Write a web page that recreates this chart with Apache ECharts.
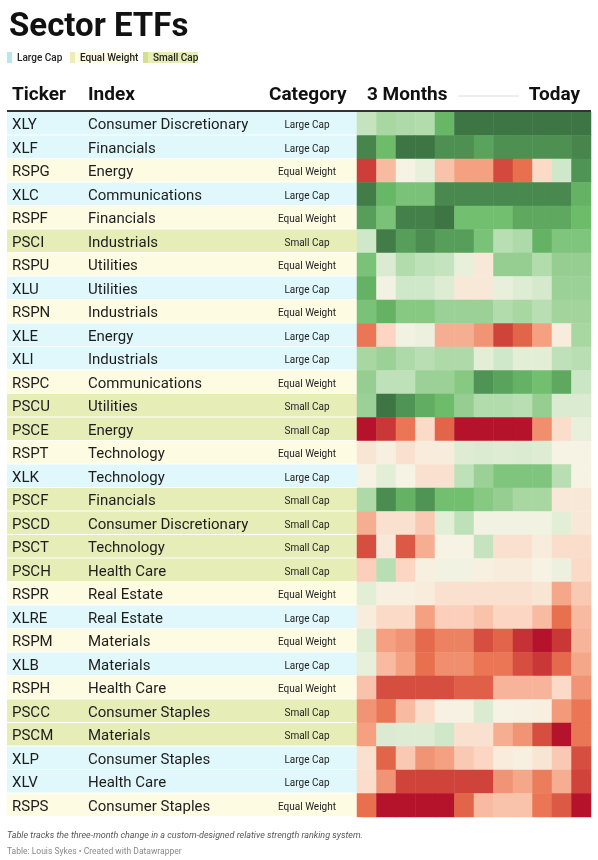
<!DOCTYPE html>
<html>
<head>
<meta charset="utf-8">
<script src="https://cdn.jsdelivr.net/npm/echarts@6/dist/echarts.min.js"></script>
<style>
  html, body { margin: 0; padding: 0; background: #fff; }
  #chart { width: 598px; height: 860px; }
</style>
</head>
<body>
<div id="chart"></div>
<script>
// table rows
const tickers = ['XLY','XLF','RSPG','XLC','RSPF','PSCI','RSPU','XLU','RSPN','XLE','XLI','RSPC','PSCU','PSCE','RSPT','XLK','PSCF','PSCD','PSCT','PSCH','RSPR','XLRE','RSPM','XLB','RSPH','PSCC','PSCM','XLP','XLV','RSPS'];
const indexes = ['Consumer Discretionary','Financials','Energy','Communications','Financials','Industrials','Utilities','Utilities','Industrials','Energy','Industrials','Communications','Utilities','Energy','Technology','Technology','Financials','Consumer Discretionary','Technology','Health Care','Real Estate','Real Estate','Materials','Materials','Health Care','Consumer Staples','Materials','Consumer Staples','Health Care','Consumer Staples'];
const categories = ['Large Cap','Large Cap','Equal Weight','Large Cap','Equal Weight','Small Cap','Equal Weight','Large Cap','Equal Weight','Large Cap','Large Cap','Equal Weight','Small Cap','Small Cap','Equal Weight','Large Cap','Small Cap','Small Cap','Small Cap','Small Cap','Equal Weight','Large Cap','Equal Weight','Large Cap','Equal Weight','Small Cap','Small Cap','Large Cap','Large Cap','Equal Weight'];

// 12 steps over 3 months (-4 strong red .. +4 dark green)
const weeks = ['w1','w2','w3','w4','w5','w6','w7','w8','w9','w10','w11','w12'];
const strength = [
  [1, 1.5, 1.4, 1.3, 2.5, 4, 4, 4, 4, 4, 4, 4],
  [3.6, 2.4, 4, 4, 3.3, 3.3, 2.9, 3.3, 3.3, 3.3, 3.3, 3.6],
  [-3.3, -1.2, 0, 0.3, -1.1, -1.6, -1.6, -3.1, -2.4, -0.7, 0.8, 3.2],
  [3.8, 2.5, 2.2, 2.2, 3.5, 3.5, 3.5, 3.5, 3.5, 3.5, 3.5, 2.6],
  [3, 2.2, 3.7, 3.7, 4, 2.3, 2.3, 2.3, 2.8, 2.8, 2.8, 2.4],
  [0.8, 3.8, 3, 3.4, 3, 3, 2.2, 1.2, 1.4, 2.6, 2.1, 2.1],
  [2.2, 0.6, 1.3, 1.1, 1.0, 0.3, -0.3, 1.8, 1.8, 1.3, 1.8, 1.8],
  [2.6, 0.1, 0.8, 0.8, 0.5, -0.3, -0.3, 0.3, 0.5, 0.7, 1.7, 1.7],
  [2.2, 2.6, 2, 2, 1.7, 1.7, 1.7, 1.3, 1.5, 1.2, 1.6, 1.6],
  [-2.3, -0.8, 0.1, 0.2, -1.4, -1.4, -1.8, -3.2, -2.6, -1.6, -0.2, 1.5],
  [1.5, 1.7, 1.4, 1.2, 1.4, 1.4, 0.4, 0.8, 0.4, 0.4, 1.1, 1.2],
  [1.8, 1.1, 1.1, 1.7, 1.7, 2.0, 3.2, 2.9, 2.6, 2.3, 2.8, 0.9],
  [1.7, 4, 3.2, 2.7, 2.4, 1.8, 1.3, 1.3, 1.2, 1.8, 0.6, 0.6],
  [-4, -3.4, -2.3, -0.7, -2.6, -4, -4, -4, -4, -1.9, -0.6, 0.3],
  [-0.4, -0.1, -0.5, -0.2, -0.2, 0.5, 0.6, 0.5, 0.6, 0.5, 0, 0],
  [0, 0.4, 0, -0.5, -0.5, 1.1, 1.7, 2.1, 2.1, 2.1, 1.2, 0],
  [1.4, 3.4, 2.6, 3.2, 2.3, 2.3, 2, 1.8, 1.5, 1.5, -0.3, -0.3],
  [-1.4, -0.5, -0.5, -1.0, 0.4, 1.1, 0.1, 0.1, 0.1, 0.1, 0.4, -0.3],
  [-3, -0.3, -2.8, -1.4, 0, 0, 1.0, -0.5, -0.5, -0.2, -0.6, -0.6],
  [-0.9, 1.2, -0.8, -0.1, 0.1, 0.1, -0.1, -0.2, -0.2, 0.0, 0.2, -0.7],
  [0.4, -0.1, -0.1, -0.2, -0.5, -0.5, -0.5, -0.5, -0.5, -0.4, -1.5, -1.0],
  [-0.2, -0.7, -0.7, -1.6, -0.9, -0.9, -1.1, -0.8, -0.8, -1.2, -2.4, -1.2],
  [0.5, -1.6, -1.8, -2.5, -2.1, -2.1, -3, -2.6, -3.5, -4, -3.4, -1.3],
  [0.3, -1.2, -1.6, -2.4, -1.9, -1.9, -2.3, -2.3, -3.0, -3.4, -2.5, -1.5],
  [-1.1, -3, -3, -3, -3, -2.7, -2.7, -1.3, -1.3, -1.3, -0.7, -1.8],
  [-1.8, -2.3, -1.2, -0.6, -0.05, -0.05, 0.6, 0.0, -0.05, -0.1, -1.7, -2.3],
  [-1.6, 0.6, 0.5, 0.5, 0.8, -0.5, -0.5, -1.4, -1.8, -3, -4, -2.3],
  [-0.5, -2.6, -1.0, -1.8, -1.6, -1.0, -0.8, -0.2, -0.1, -0.4, -1.0, -3],
  [-0.6, -1.8, -3.2, -3.2, -3.2, -3.2, -3.2, -1.8, -1.5, -2.2, -1.4, -3.2],
  [-2.4, -4, -4, -4, -4, -2.6, -1.2, -1.1, -1.1, -2.3, -2.8, -4]
];

const rowBg = { 'Large Cap': '#e0f8fb', 'Equal Weight': '#fdfbe2', 'Small Cap': '#e7edb6' };
const swatch = { 'Large Cap': '#b6e6ee', 'Equal Weight': '#efedb6', 'Small Cap': '#d5df8c' };

const TOP = 112, ROWS_H = 705;

// heatmap data [col, row, value]
const heat = [];
strength.forEach((row, r) => row.forEach((v, c) => heat.push([c, r, v])));

const renderRow = (params, api) => {
  const i = api.value(1);
  const p = api.coord([0, i]);
  const h = api.size([0, 1])[1];
  const x0 = params.coordSys.x;
  const w = params.coordSys.width;
  const cat = categories[i];
  return {
    type: 'group',
    children: [
      { type: 'rect', shape: { x: x0, y: p[1] - h / 2, width: w, height: h - 1 }, style: { fill: rowBg[cat] } },
      { type: 'text', style: { text: tickers[i], x: x0 + 5, y: p[1] + 1.5, verticalAlign: 'middle', font: '15px Roboto', fill: '#1d1d1d' } },
      { type: 'text', style: { text: indexes[i], x: x0 + 81, y: p[1] + 1.5, verticalAlign: 'middle', font: '15px Roboto', fill: '#1d1d1d' } },
      { type: 'text', style: { text: cat, x: x0 + 300, y: p[1] + 2, align: 'center', verticalAlign: 'middle', font: '10px Roboto', fill: '#222' } }
    ]
  };
};

// legend pieces
const legendItems = [];
let lx = 7;
['Large Cap', 'Equal Weight', 'Small Cap'].forEach((name) => {
  const tw = name === 'Equal Weight' ? 54 : 44;
  legendItems.push({ type: 'rect', left: lx, top: 52, shape: { width: 5, height: 11 }, style: { fill: swatch[name] } });
  legendItems.push({ type: 'rect', left: lx + 5, top: 52, shape: { width: tw + 6, height: 11 }, style: { fill: name === 'Large Cap' ? '#fff' : rowBg[name] } });
  legendItems.push({ type: 'text', left: lx + 10, top: 53, style: { text: name, font: '500 10px Roboto', fill: '#222' } });
  lx += tw + 19;
});

const chart = echarts.init(document.getElementById('chart'));
chart.setOption({
  animation: false,
  title: {
    text: 'Sector ETFs',
    left: 4, top: 6,
    textStyle: { fontFamily: 'Roboto', fontWeight: 'bold', fontSize: 33, color: '#111' }
  },
  grid: [
    { left: 7, width: 350, top: TOP, height: ROWS_H },
    { left: 357, width: 234, top: TOP, height: ROWS_H }
  ],
  xAxis: [
    { gridIndex: 0, type: 'value', min: 0, max: 350, show: false },
    { gridIndex: 1, type: 'category', data: weeks, show: false }
  ],
  yAxis: [
    { gridIndex: 0, type: 'category', data: tickers, inverse: true, show: false },
    { gridIndex: 1, type: 'category', data: tickers, inverse: true, show: false }
  ],
  visualMap: {
    show: false,
    type: 'continuous',
    seriesIndex: 1,
    min: -4, max: 4,
    inRange: {
      color: ['#b5122c', '#d0433b', '#e8704f', '#f4a081', '#fcd6c3', '#f6f3e4', '#d0e8ca', '#a2d49c', '#6cbc6a', '#4f9454', '#3e7544']
    }
  },
  series: [
    {
      type: 'custom',
      xAxisIndex: 0, yAxisIndex: 0,
      renderItem: renderRow,
      data: tickers.map((t, i) => [0, i]),
      silent: true
    },
    {
      type: 'heatmap',
      xAxisIndex: 1, yAxisIndex: 1,
      data: heat,
      itemStyle: { borderWidth: 0 },
      emphasis: { disabled: true }
    }
  ],
  graphic: legendItems.concat([
    { type: 'text', left: 12, top: 86, style: { text: 'Ticker', font: 'bold 19px Roboto', fill: '#111' } },
    { type: 'text', left: 88, top: 86, style: { text: 'Index', font: 'bold 19px Roboto', fill: '#111' } },
    { type: 'text', left: 269, top: 86, style: { text: 'Category', font: 'bold 19px Roboto', fill: '#111' } },
    { type: 'text', left: 367, top: 86, style: { text: '3 Months', font: 'bold 19px Roboto', fill: '#111' } },
    { type: 'line', shape: { x1: 458, y1: 96, x2: 519, y2: 96 }, style: { stroke: '#dcdcdc', lineWidth: 1 } },
    { type: 'text', right: 18, top: 86, style: { text: 'Today', font: 'bold 19px Roboto', fill: '#111' } },
    { type: 'line', shape: { x1: 7, y1: 111, x2: 591, y2: 111 }, style: { stroke: '#333', lineWidth: 2 }, z: 100 },
    { type: 'text', left: 7, top: 831, style: { text: 'Table tracks the three-month change in a custom-designed relative strength ranking system.', font: 'italic 9px Roboto', fill: '#555' } },
    { type: 'text', left: 7, top: 847, style: { text: 'Table: Louis Sykes \u2022 Created with Datawrapper', font: '8.5px Roboto', fill: '#8a8a8a' } }
  ])
});
</script>
</body>
</html>
